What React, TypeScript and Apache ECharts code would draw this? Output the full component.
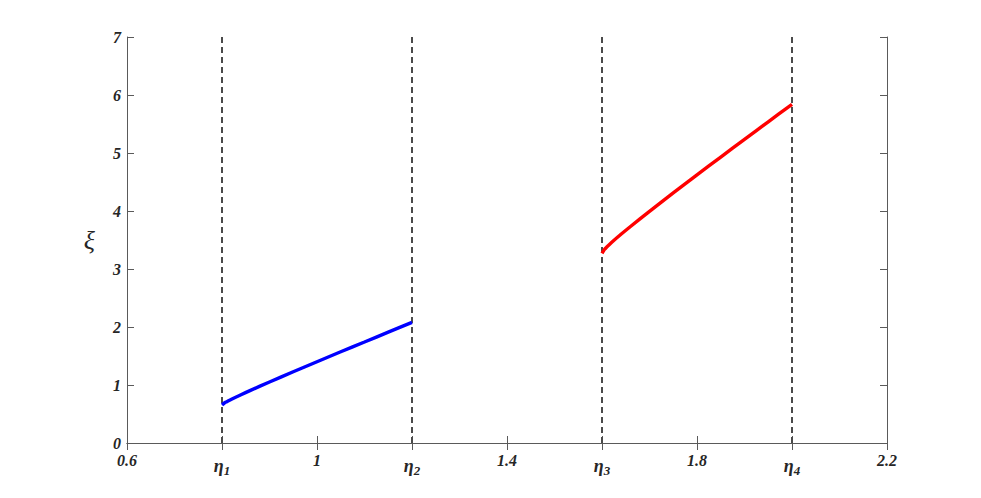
import React, { useEffect, useRef } from "react";
import * as echarts from "echarts";

const xTickLabels = ["0.6", "η1", "1", "η2", "1.4", "η3", "1.8", "η4", "2.2"];
const etaPositions = [0.8, 1.2, 1.6, 2.0];

const blueEta = [0.8, 0.805, 0.81, 0.82, 0.84, 0.86, 0.9, 0.95, 1.0, 1.05, 1.1, 1.15, 1.2];
const blueXi = [0.655, 0.69, 0.712, 0.755, 0.833, 0.908, 1.052, 1.228, 1.401, 1.573, 1.742, 1.911, 2.08];

const redEta = [1.6, 1.605, 1.61, 1.62, 1.64, 1.66, 1.7, 1.75, 1.8, 1.85, 1.9, 1.95, 2.0];
const redXi = [3.27, 3.335, 3.378, 3.456, 3.598, 3.733, 3.994, 4.311, 4.623, 4.93, 5.235, 5.538, 5.84];

const FONT = "Liberation Serif";

export default function App() {
  const ref = useRef<HTMLDivElement>(null);
  useEffect(() => {
    if (!ref.current) return;
    const chart = echarts.init(ref.current, null, { renderer: "svg" });
    const axisLine = { show: true, lineStyle: { color: "#5a5a5a", width: 1 } };
    const tick = { show: true, inside: true, length: 7, lineStyle: { color: "#5a5a5a" } };
    const labelStyle = {
      fontFamily: FONT,
      fontSize: 16,
      fontWeight: "bold" as const,
      fontStyle: "italic" as const,
      color: "#262626",
    };
    const dashed = etaPositions.map((e) => ({
      type: "line" as const,
      data: [
        [e, 0],
        [e, 7],
      ],
      symbol: "none",
      silent: true,
      lineStyle: { color: "#4a4a4a", width: 2, type: [6, 4] as any },
      z: 1,
    }));
    chart.setOption({
      animation: false,
      textStyle: { fontFamily: FONT },
      grid: { left: 127, right: 94, top: 37, bottom: 55, containLabel: false },
      xAxis: [
        {
          type: "value",
          min: 0.6,
          max: 2.2,
          interval: 0.2,
          position: "bottom",
          axisLine,
          axisTick: tick,
          splitLine: { show: false },
          axisLabel: {
            ...labelStyle,
            margin: 9,
            formatter: (v: number) => {
              const i = Math.round((v - 0.6) / 0.2);
              const s = xTickLabels[i] ?? "";
              if (s.startsWith("η")) return `{e|η}{s|${s.slice(1)}}`;
              return s;
            },
            rich: {
              e: { ...labelStyle, fontSize: 18, padding: [2, 0, 0, 0] },
              s: { ...labelStyle, fontSize: 13, padding: [12, 0, 0, 0] },
            },
          },
        },
        {
          type: "value",
          min: 0.6,
          max: 2.2,
          interval: 0.2,
          position: "top",
          axisLine,
          axisTick: tick,
          axisLabel: { show: false },
          splitLine: { show: false },
        },
      ],
      yAxis: [
        {
          type: "value",
          min: 0,
          max: 7,
          interval: 1,
          position: "left",
          axisLine,
          axisTick: tick,
          splitLine: { show: false },
          axisLabel: { ...labelStyle, margin: 6 },
          name: "ξ",
          nameLocation: "middle",
          nameRotate: 0,
          nameGap: 32,
          nameTextStyle: {
            fontFamily: FONT,
            fontSize: 26,
            fontStyle: "italic",
            color: "#262626",
          },
        },
        {
          type: "value",
          min: 0,
          max: 7,
          interval: 1,
          position: "right",
          axisLine,
          axisTick: tick,
          axisLabel: { show: false },
          splitLine: { show: false },
        },
      ],
      series: [
        ...dashed,
        {
          type: "line",
          data: blueEta.map((e, i) => [e, blueXi[i]]),
          symbol: "none",
          smooth: 0.3,
          lineStyle: { color: "#0000ff", width: 3.4 },
          z: 3,
        },
        {
          type: "line",
          data: redEta.map((e, i) => [e, redXi[i]]),
          symbol: "none",
          smooth: 0.3,
          lineStyle: { color: "#ff0000", width: 3.4 },
          z: 3,
        },
      ],
    });
    return () => chart.dispose();
  }, []);
  return (
    <div
      ref={ref}
      style={{ position: "fixed", left: 0, top: 0, width: 981, height: 498, background: "#fff" }}
    />
  );
}
